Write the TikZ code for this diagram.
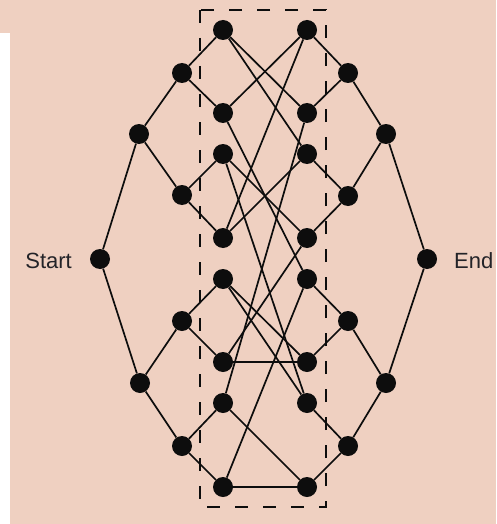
\documentclass[tikz,border=0pt]{standalone}
\usepackage{fontspec}
\setmainfont{Liberation Sans}
\definecolor{peach}{RGB}{239,208,193}
\definecolor{ink}{RGB}{13,13,13}
\definecolor{labelgray}{RGB}{35,35,40}
\begin{document}
\begin{tikzpicture}[x=1pt,y=-1pt,
  dot/.style={circle,fill=ink,minimum size=20pt,inner sep=0pt},
  link/.style={draw=ink,line width=1.7pt},
  stagebox/.style={draw=ink,line width=2pt,dash pattern=on 13pt off 15pt},
  tag/.style={text=labelgray,inner sep=0pt,font=\fontsize{22}{22}\selectfont}]
% canvas
\useasboundingbox (0,0) rectangle (496,524);
\fill[peach] (0,0) rectangle (496,524);
\fill[white] (0,33) rectangle (10,524);

% terminals
\node[dot] (S) at (100,259) {};
\node[dot] (E) at (427,259) {};
\node[tag,anchor=east] (startlbl) at (72,261) {Start};
\node[tag,anchor=west] (endlbl) at (454,261) {End};

% left fan-out tree
\node[dot] (L1a) at (139,134) {};
\node[dot] (L1b) at (140,383) {};
\node[dot] (L2a) at (182,73) {};
\node[dot] (L2b) at (182,195) {};
\node[dot] (L2c) at (182,321) {};
\node[dot] (L2d) at (182,446) {};
\foreach \n/\y in {a/30,b/113,c/154,d/238,e/279,f/362,g/403,h/487}
  \node[dot] (L3\n) at (223,\y) {};

% right fan-in tree
\node[dot] (R1a) at (386,134) {};
\node[dot] (R1b) at (386,383) {};
\node[dot] (R2a) at (348,73) {};
\node[dot] (R2b) at (348,196) {};
\node[dot] (R2c) at (348,321) {};
\node[dot] (R2d) at (348,446) {};
\foreach \n/\y in {a/30,b/113,c/154,d/238,e/279,f/362,g/403,h/487}
  \node[dot] (R3\n) at (307,\y) {};

% tree edges
\draw[link] (S) -- (L1a);
\draw[link] (S) -- (L1b);
\draw[link] (E) -- (R1a);
\draw[link] (E) -- (R1b);
\foreach \side in {L,R}{
  \draw[link] (\side1a) -- (\side2a);
  \draw[link] (\side1a) -- (\side2b);
  \draw[link] (\side1b) -- (\side2c);
  \draw[link] (\side1b) -- (\side2d);
  \draw[link] (\side2a) -- (\side3a);
  \draw[link] (\side2a) -- (\side3b);
  \draw[link] (\side2b) -- (\side3c);
  \draw[link] (\side2b) -- (\side3d);
  \draw[link] (\side2c) -- (\side3e);
  \draw[link] (\side2c) -- (\side3f);
  \draw[link] (\side2d) -- (\side3g);
  \draw[link] (\side2d) -- (\side3h);
}

% middle wiring
\foreach \a/\b in {a/b,a/c,b/a,b/e,c/d,c/g,d/a,d/c,e/f,e/g,f/f,f/d,g/h,g/b,h/h,h/e}
  \draw[link] (L3\a) -- (R3\b);

% dashed stage outline
\draw[stagebox] (200,10) rectangle (326,507);
\end{tikzpicture}
\end{document}
